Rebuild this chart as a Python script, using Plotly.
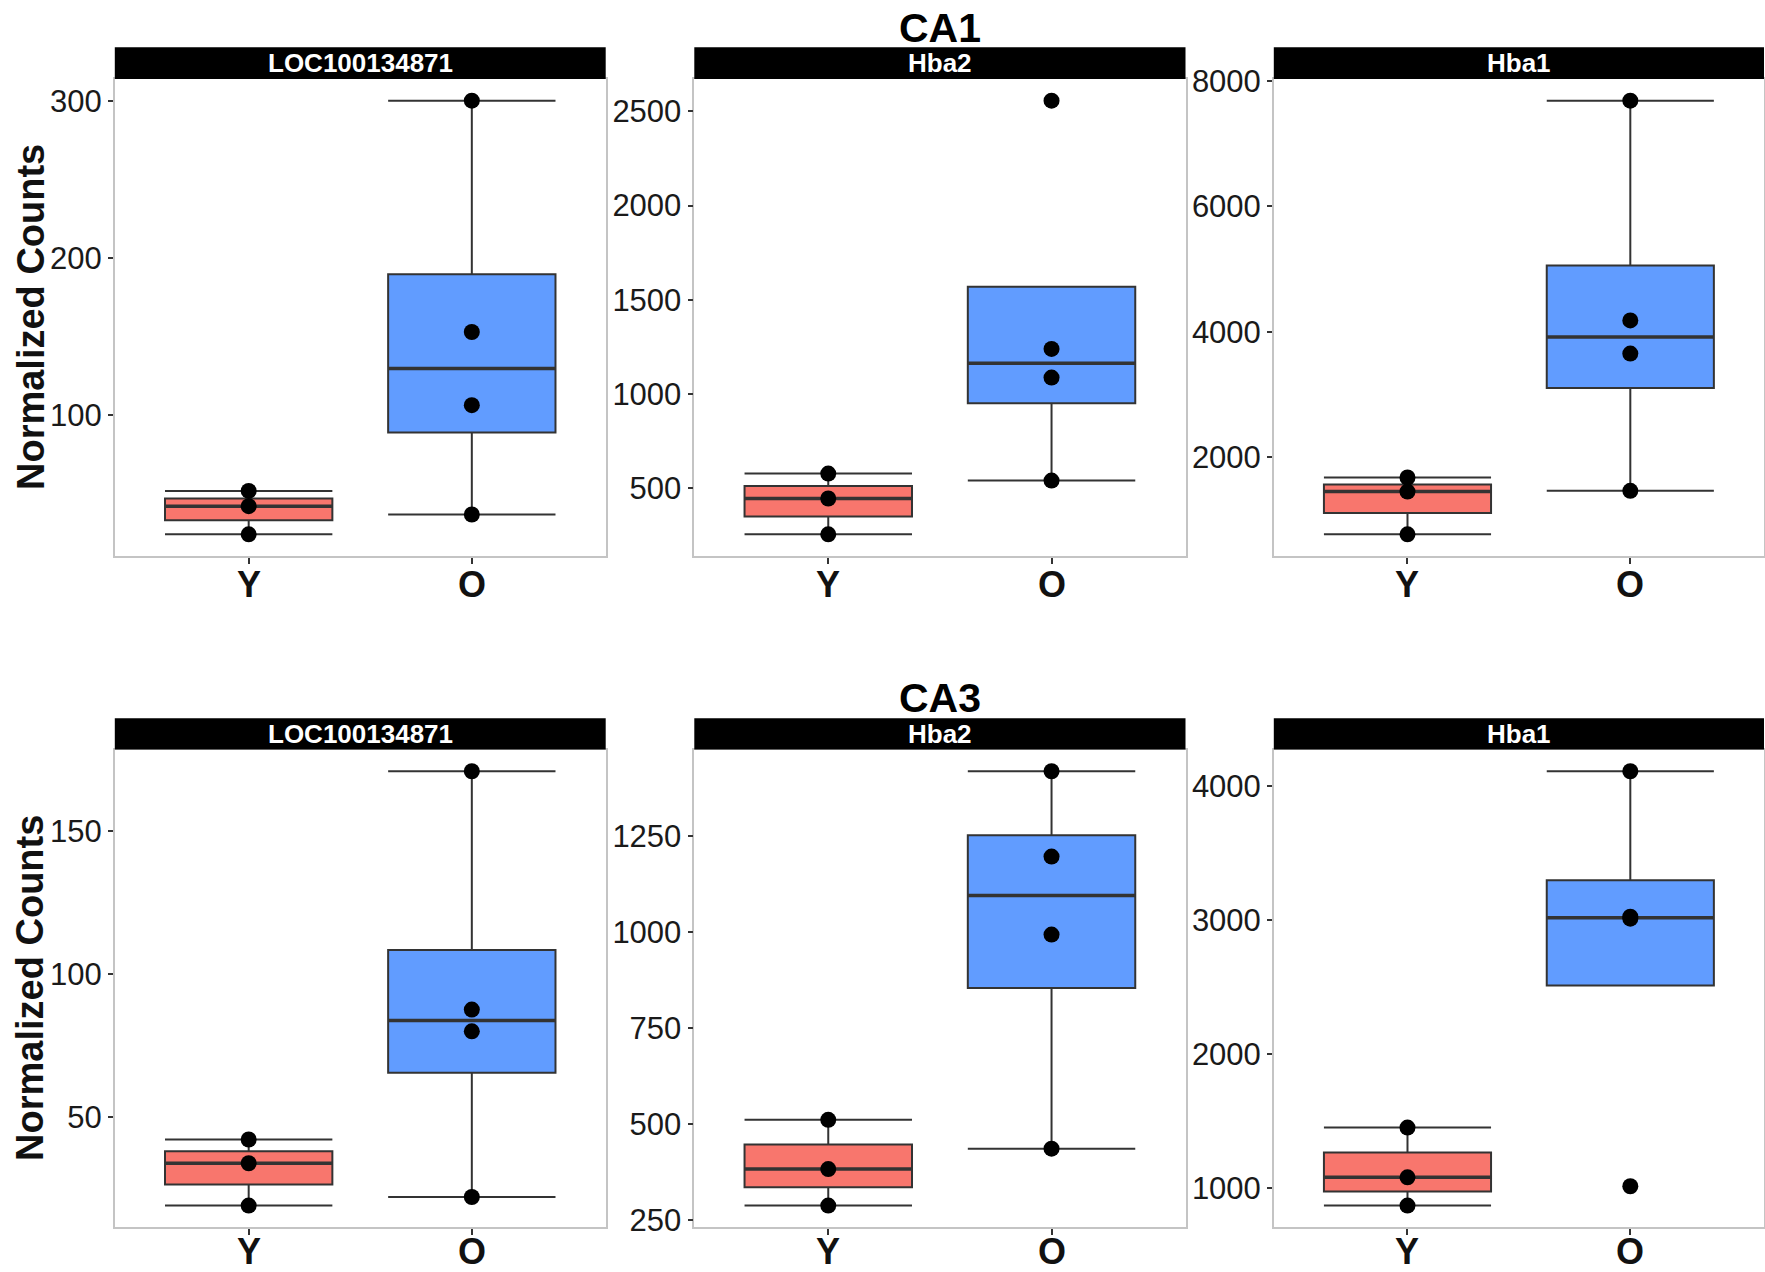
import numpy as np
import plotly.graph_objects as go

# ---------------- data ----------------
regions = ["CA1", "CA3"]
genes = ["LOC100134871", "Hba2", "Hba1"]
groups = ["Y", "O"]

ca1_loc_Y = [24.4, 42.3, 52.0]
ca1_loc_O = [37.0, 106.5, 153.0, 300.0]
ca1_hba2_Y = [257, 447, 579]
ca1_hba2_O = [542, 1088, 1240, 2556]
ca1_hba1_Y = [772, 1453, 1678]
ca1_hba1_O = [1465, 3653, 4182, 7684]

ca3_loc_Y = [19.2, 34.0, 42.3]
ca3_loc_O = [22.2, 80.1, 87.7, 171.0]
ca3_hba2_Y = [288, 383, 511]
ca3_hba2_O = [436, 993, 1196, 1418]
ca3_hba1_Y = [870, 1081, 1452]
ca3_hba1_O = [1014, 3010, 3025, 4110]

ca1_ticks = [[100, 200, 300], [500, 1000, 1500, 2000, 2500], [2000, 4000, 6000, 8000]]
ca3_ticks = [[50, 100, 150], [250, 500, 750, 1000, 1250], [1000, 2000, 3000, 4000]]

y_title = "Normalized Counts"

panels = [
    [(ca1_loc_Y, ca1_loc_O), (ca1_hba2_Y, ca1_hba2_O), (ca1_hba1_Y, ca1_hba1_O)],
    [(ca3_loc_Y, ca3_loc_O), (ca3_hba2_Y, ca3_hba2_O), (ca3_hba1_Y, ca3_hba1_O)],
]
ticks = [ca1_ticks, ca3_ticks]

# ---------------- style / layout ----------------
W, H = 1765, 1272
FONT = "Liberation Sans, Arial, Helvetica, sans-serif"
fill_colors = {"Y": "#F8766D", "O": "#619CFF"}
box_line = "#333333"
border = "#C4C4C4"
BOX_W = 0.75

col_px = [(114.8, 605.7), (694.3, 1185.5), (1273.8, 1764.0)]
row_plot_px = [(79.0, 556.0), (749.5, 1227.3)]
row_strip_px = [(47.3, 79.0), (718.3, 749.5)]
title_y_px = [28.0, 698.0]
ytitle_x_px = 30.5
xlabel_offset_px = 28.5
xlabel_max_px = H - 21


def fx(px):
    return px / W


def fy(px):
    return 1 - px / H


def box_stats(vals):
    """ggplot2-style (R type 7) box statistics."""
    v = np.asarray(vals, dtype=float)
    q1, med, q3 = np.percentile(v, [25, 50, 75])
    iqr = q3 - q1
    lo_ok = v[v >= q1 - 1.5 * iqr]
    hi_ok = v[v <= q3 + 1.5 * iqr]
    lf = min(q1, lo_ok.min())
    uf = max(q3, hi_ok.max())
    return q1, med, q3, lf, uf


fig = go.Figure()
shapes = []
annotations = []
pos = list(range(len(groups)))

idx = 0
for r in range(2):
    for c in range(3):
        idx += 1
        xa = "x" if idx == 1 else f"x{idx}"
        ya = "y" if idx == 1 else f"y{idx}"
        yv, ov = panels[r][c]
        for p, g, vals in zip(pos, groups, (yv, ov)):
            q1, med, q3, lf, uf = box_stats(vals)
            fig.add_trace(go.Box(
                x=[p], q1=[q1], median=[med], q3=[q3],
                lowerfence=[lf], upperfence=[uf],
                name=g, xaxis=xa, yaxis=ya,
                fillcolor=fill_colors[g],
                line=dict(color=box_line, width=2),
                boxpoints=False,
                whiskerwidth=1, width=BOX_W,
                showlegend=False, hoverinfo="y",
            ))
            # thicker median bar (ggplot's fatten = 2)
            fig.add_trace(go.Scatter(
                x=[p - BOX_W / 2, p + BOX_W / 2], y=[med, med], mode="lines",
                xaxis=xa, yaxis=ya,
                line=dict(color=box_line, width=3.5),
                showlegend=False, hoverinfo="skip",
            ))
        for p, g, vals in zip(pos, groups, (yv, ov)):
            fig.add_trace(go.Scatter(
                x=[p] * len(vals), y=vals, mode="markers",
                xaxis=xa, yaxis=ya,
                marker=dict(color="black", size=16, line=dict(width=0)),
                showlegend=False, hoverinfo="y",
            ))
        allv = list(yv) + list(ov)
        lo, hi = min(allv), max(allv)
        pad = 0.05 * (hi - lo)
        x0, x1 = col_px[c]
        yt, yb = row_plot_px[r]
        xkey = "xaxis" if idx == 1 else f"xaxis{idx}"
        ykey = "yaxis" if idx == 1 else f"yaxis{idx}"
        fig.layout[xkey] = dict(
            domain=[fx(x0), fx(x1)], anchor=ya,
            range=[-0.6, len(groups) - 0.4],
            tickmode="array", tickvals=pos, ticktext=groups,
            showline=True, linecolor=border, linewidth=1.5, mirror=True,
            showgrid=False, zeroline=False,
            ticks="outside", ticklen=6, tickwidth=1.5, tickcolor="#333333",
            showticklabels=False,
        )
        fig.layout[ykey] = dict(
            domain=[fy(yb), fy(yt)], anchor=xa,
            range=[lo - pad, hi + pad],
            tickmode="array", tickvals=ticks[r][c],
            ticktext=[str(t) for t in ticks[r][c]],
            showline=True, linecolor=border, linewidth=1.5, mirror=True,
            showgrid=False, zeroline=False,
            ticks="outside", ticklen=5, tickwidth=1.5, tickcolor="#333333",
            tickfont=dict(family=FONT, size=31, color="#1a1a1a"),
        )
        # x category labels (bold, like the reference)
        lab_px = min(yb + xlabel_offset_px, xlabel_max_px)
        for p, g in zip(pos, groups):
            annotations.append(dict(xref=xa, yref="paper", x=p,
                                    y=fy(lab_px),
                                    text=g, showarrow=False,
                                    xanchor="center", yanchor="middle",
                                    font=dict(family=FONT, size=36, color="#111111",
                                              weight="bold")))
        # facet strip
        s0, s1 = row_strip_px[r]
        shapes.append(dict(type="rect", xref="paper", yref="paper",
                           x0=fx(x0), x1=fx(x1), y0=fy(s1), y1=fy(s0),
                           fillcolor="black", line=dict(width=0), layer="above"))
        annotations.append(dict(xref="paper", yref="paper",
                                x=fx((x0 + x1) / 2), y=fy((s0 + s1) / 2),
                                text=genes[c], showarrow=False,
                                xanchor="center", yanchor="middle",
                                font=dict(family=FONT, size=26, color="white", weight="bold")))
    # row title
    annotations.append(dict(xref="paper", yref="paper",
                            x=fx((col_px[1][0] + col_px[1][1]) / 2), y=fy(title_y_px[r]),
                            text=regions[r], showarrow=False,
                            xanchor="center", yanchor="middle",
                            font=dict(family=FONT, size=41, color="black", weight="bold")))
    # y-axis title
    yt, yb = row_plot_px[r]
    annotations.append(dict(xref="paper", yref="paper",
                            x=fx(ytitle_x_px), y=fy((yt + yb) / 2),
                            text=y_title, showarrow=False, textangle=-90,
                            xanchor="center", yanchor="middle",
                            font=dict(family=FONT, size=38, color="#111111", weight="bold")))

fig.update_layout(
    width=W, height=H,
    margin=dict(l=0, r=0, t=0, b=0, autoexpand=False),
    paper_bgcolor="white", plot_bgcolor="white",
    boxmode="overlay",
    shapes=shapes, annotations=annotations,
    showlegend=False,
)

# pin the figure to the page's top-left corner so the page is exactly the figure size
post = (
    "document.documentElement.style.margin='0';"
    "document.documentElement.style.overflow='hidden';"
    "document.body.style.margin='0';"
    "document.body.style.overflow='hidden';"
    "var d=document.getElementById('{plot_id}');"
    "if(d){d.style.position='fixed';d.style.left='0px';d.style.top='0px';}"
)
fig.write_html("out.html", post_script=post,
               config={"displayModeBar": False, "responsive": False})
